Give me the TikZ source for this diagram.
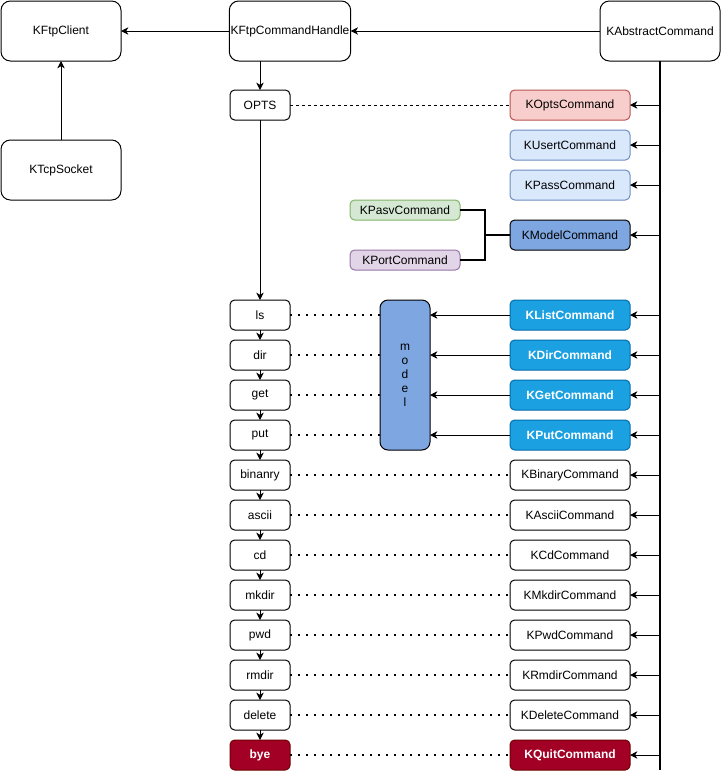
\documentclass[tikz,border=0pt]{standalone}
\usepackage{fontspec}
\setmainfont{Liberation Sans}
\usetikzlibrary{positioning, arrows.meta}
\definecolor{optsfill}{HTML}{F8CECC}
\definecolor{optsdraw}{HTML}{B85450}
\definecolor{authfill}{HTML}{DAE8FC}
\definecolor{authdraw}{HTML}{6C8EBF}
\definecolor{pasvfill}{HTML}{D5E8D4}
\definecolor{pasvdraw}{HTML}{82B366}
\definecolor{portfill}{HTML}{E1D5E7}
\definecolor{portdraw}{HTML}{9673A6}
\definecolor{modelfill}{HTML}{7EA6E0}
\definecolor{datafill}{HTML}{1BA1E2}
\definecolor{datadraw}{HTML}{006EAF}
\definecolor{quitfill}{HTML}{A20025}
\definecolor{quitdraw}{HTML}{6F0000}
\tikzset{
  >={Stealth[length=5.5pt,width=5.5pt,inset=1.6pt]},
  every node/.style={font=\fontsize{9}{10.5}\selectfont, outer sep=0pt, inner sep=1pt},
  box/.style={draw, line width=0.75pt, rounded corners=3.5pt,
    minimum width=90pt, minimum height=22.5pt},
  bigbox/.style={box, rounded corners=7pt, minimum height=45pt},
  verb/.style={box, minimum width=45pt},
  smallbox/.style={box, minimum width=82.5pt, minimum height=15pt},
  strong/.style={text=white, font=\fontsize{9}{10.5}\selectfont\bfseries},
  datacmd/.style={box, fill=datafill, draw=datadraw, strong},
  quit/.style={fill=quitfill, draw=quitdraw, strong},
  dotline/.style={line width=1.5pt, dash pattern=on 1.5pt off 4.5pt},
  link/.style={->, line width=0.75pt},
}

\begin{document}
\begin{tikzpicture}[x=0.75pt, y=-0.75pt]
  \useasboundingbox (0,0) rectangle (721,772);

  % top row
  \node[bigbox] (KFtpClient)         at (61,31)  {KFtpClient};
  \node[bigbox] (KFtpCommandHandle)  at (290,31) {KFtpCommandHandle};
  \node[bigbox] (KAbstractCommand)   at (660,31) {KAbstractCommand};
  \node[bigbox] (KTcpSocket)         at (61,170) {KTcpSocket};

  \node[verb]                                 (OPTS)          at (260,105) {OPTS};
  \node[box, fill=optsfill, draw=optsdraw]    (KOptsCommand)  at (570,105) {KOptsCommand};
  \node[box, fill=authfill, draw=authdraw, below=7.5pt of KOptsCommand]  (KUsertCommand) {KUsertCommand};
  \node[box, fill=authfill, draw=authdraw, below=7.5pt of KUsertCommand] (KPassCommand)  {KPassCommand};

  \node[smallbox, fill=pasvfill, draw=pasvdraw] (KPasvCommand)  at (405,210) {KPasvCommand};
  \node[smallbox, fill=portfill, draw=portdraw] (KPortCommand)  at (405,260) {KPortCommand};
  \node[box, fill=modelfill]                    (KModelCommand) at (570,235) {KModelCommand};
  \coordinate (fork) at (485,235);

  % command column
  \node[verb]                     (ls)      at (260,315) {ls};
  \node[verb, below=7.5pt of ls]      (dir)     {dir};
  \node[verb, below=7.5pt of dir]     (get)     {get};
  \node[verb, below=7.5pt of get]     (put)     {put};
  \node[verb, below=7.5pt of put]     (binanry) {binanry};
  \node[verb, below=7.5pt of binanry] (ascii)   {ascii};
  \node[verb, below=7.5pt of ascii]   (cd)      {cd};
  \node[verb, below=7.5pt of cd]      (mkdir)   {mkdir};
  \node[verb, below=7.5pt of mkdir]   (pwd)     {pwd};
  \node[verb, below=7.5pt of pwd]     (rmdir)   {rmdir};
  \node[verb, below=7.5pt of rmdir]   (delete)  {delete};
  \node[verb, quit, below=7.5pt of delete] (bye) {bye};

  \node[box, fill=modelfill, rounded corners=6pt, minimum width=37.5pt,
        minimum height=112.5pt, align=center] (model) at (405,375) {m\\o\\d\\e\\l};

  % command classes
  \node[datacmd]                           (KListCommand)   at (570,315) {KListCommand};
  \node[datacmd, below=7.5pt of KListCommand]   (KDirCommand)    {KDirCommand};
  \node[datacmd, below=7.5pt of KDirCommand]    (KGetCommand)    {KGetCommand};
  \node[datacmd, below=7.5pt of KGetCommand]    (KPutCommand)    {KPutCommand};
  \node[box, below=7.5pt of KPutCommand]        (KBinaryCommand) {KBinaryCommand};
  \node[box, below=7.5pt of KBinaryCommand]     (KAsciiCommand)  {KAsciiCommand};
  \node[box, below=7.5pt of KAsciiCommand]      (KCdCommand)     {KCdCommand};
  \node[box, below=7.5pt of KCdCommand]         (KMkdirCommand)  {KMkdirCommand};
  \node[box, below=7.5pt of KMkdirCommand]      (KPwdCommand)    {KPwdCommand};
  \node[box, below=7.5pt of KPwdCommand]        (KRmdirCommand)  {KRmdirCommand};
  \node[box, below=7.5pt of KRmdirCommand]      (KDeleteCommand) {KDeleteCommand};
  \node[box, quit, below=7.5pt of KDeleteCommand] (KQuitCommand) {KQuitCommand};

  \coordinate (trunkend) at (660,770);

  % connectors
  \draw[link] (KAbstractCommand) -- (KFtpCommandHandle);
  \draw[link] (KFtpCommandHandle) -- (KFtpClient);
  \draw[link] (KTcpSocket) -- (KFtpClient);
  \draw[link] (KFtpCommandHandle.south -| OPTS) -- (OPTS);
  \draw[line width=1pt] (KAbstractCommand) -- (trunkend);

  \draw[line width=0.75pt, dash pattern=on 2.25pt off 2.25pt] (OPTS) -- (KOptsCommand);
  \draw[line width=1.5pt] (KPasvCommand.east) -| (fork) |- (KPortCommand.east);
  \draw[line width=1pt] (fork) -- (KModelCommand);

  \path[link] (OPTS) edge (ls)
        (ls) edge (dir)          (dir) edge (get)
        (get) edge (put)         (put) edge (binanry)
        (binanry) edge (ascii)   (ascii) edge (cd)
        (cd) edge (mkdir)        (mkdir) edge (pwd)
        (pwd) edge (rmdir)       (rmdir) edge (delete)
        (delete) edge (bye);

  \path[link] (KListCommand) edge (model.east |- KListCommand)
        (KDirCommand) edge (model.east |- KDirCommand)
        (KGetCommand) edge (model.east |- KGetCommand)
        (KPutCommand) edge (model.east |- KPutCommand);

  \path[dotline] (ls) edge (model.west |- ls)
        (dir) edge (model.west |- dir)
        (get) edge (model.west |- get)
        (put) edge (model.west |- put)
        (binanry) edge (KBinaryCommand)
        (ascii) edge (KAsciiCommand)
        (cd) edge (KCdCommand)
        (mkdir) edge (KMkdirCommand)
        (pwd) edge (KPwdCommand)
        (rmdir) edge (KRmdirCommand)
        (delete) edge (KDeleteCommand)
        (bye) edge (KQuitCommand);

  \path[link] (KAbstractCommand.south |- KOptsCommand) edge (KOptsCommand)
        (KAbstractCommand.south |- KUsertCommand) edge (KUsertCommand)
        (KAbstractCommand.south |- KPassCommand) edge (KPassCommand)
        (KAbstractCommand.south |- KModelCommand) edge (KModelCommand)
        (KAbstractCommand.south |- KListCommand) edge (KListCommand)
        (KAbstractCommand.south |- KDirCommand) edge (KDirCommand)
        (KAbstractCommand.south |- KGetCommand) edge (KGetCommand)
        (KAbstractCommand.south |- KPutCommand) edge (KPutCommand)
        (KAbstractCommand.south |- KBinaryCommand) edge (KBinaryCommand)
        (KAbstractCommand.south |- KAsciiCommand) edge (KAsciiCommand)
        (KAbstractCommand.south |- KCdCommand) edge (KCdCommand)
        (KAbstractCommand.south |- KMkdirCommand) edge (KMkdirCommand)
        (KAbstractCommand.south |- KPwdCommand) edge (KPwdCommand)
        (KAbstractCommand.south |- KRmdirCommand) edge (KRmdirCommand)
        (KAbstractCommand.south |- KDeleteCommand) edge (KDeleteCommand)
        (KAbstractCommand.south |- KQuitCommand) edge (KQuitCommand);
\end{tikzpicture}
\end{document}
